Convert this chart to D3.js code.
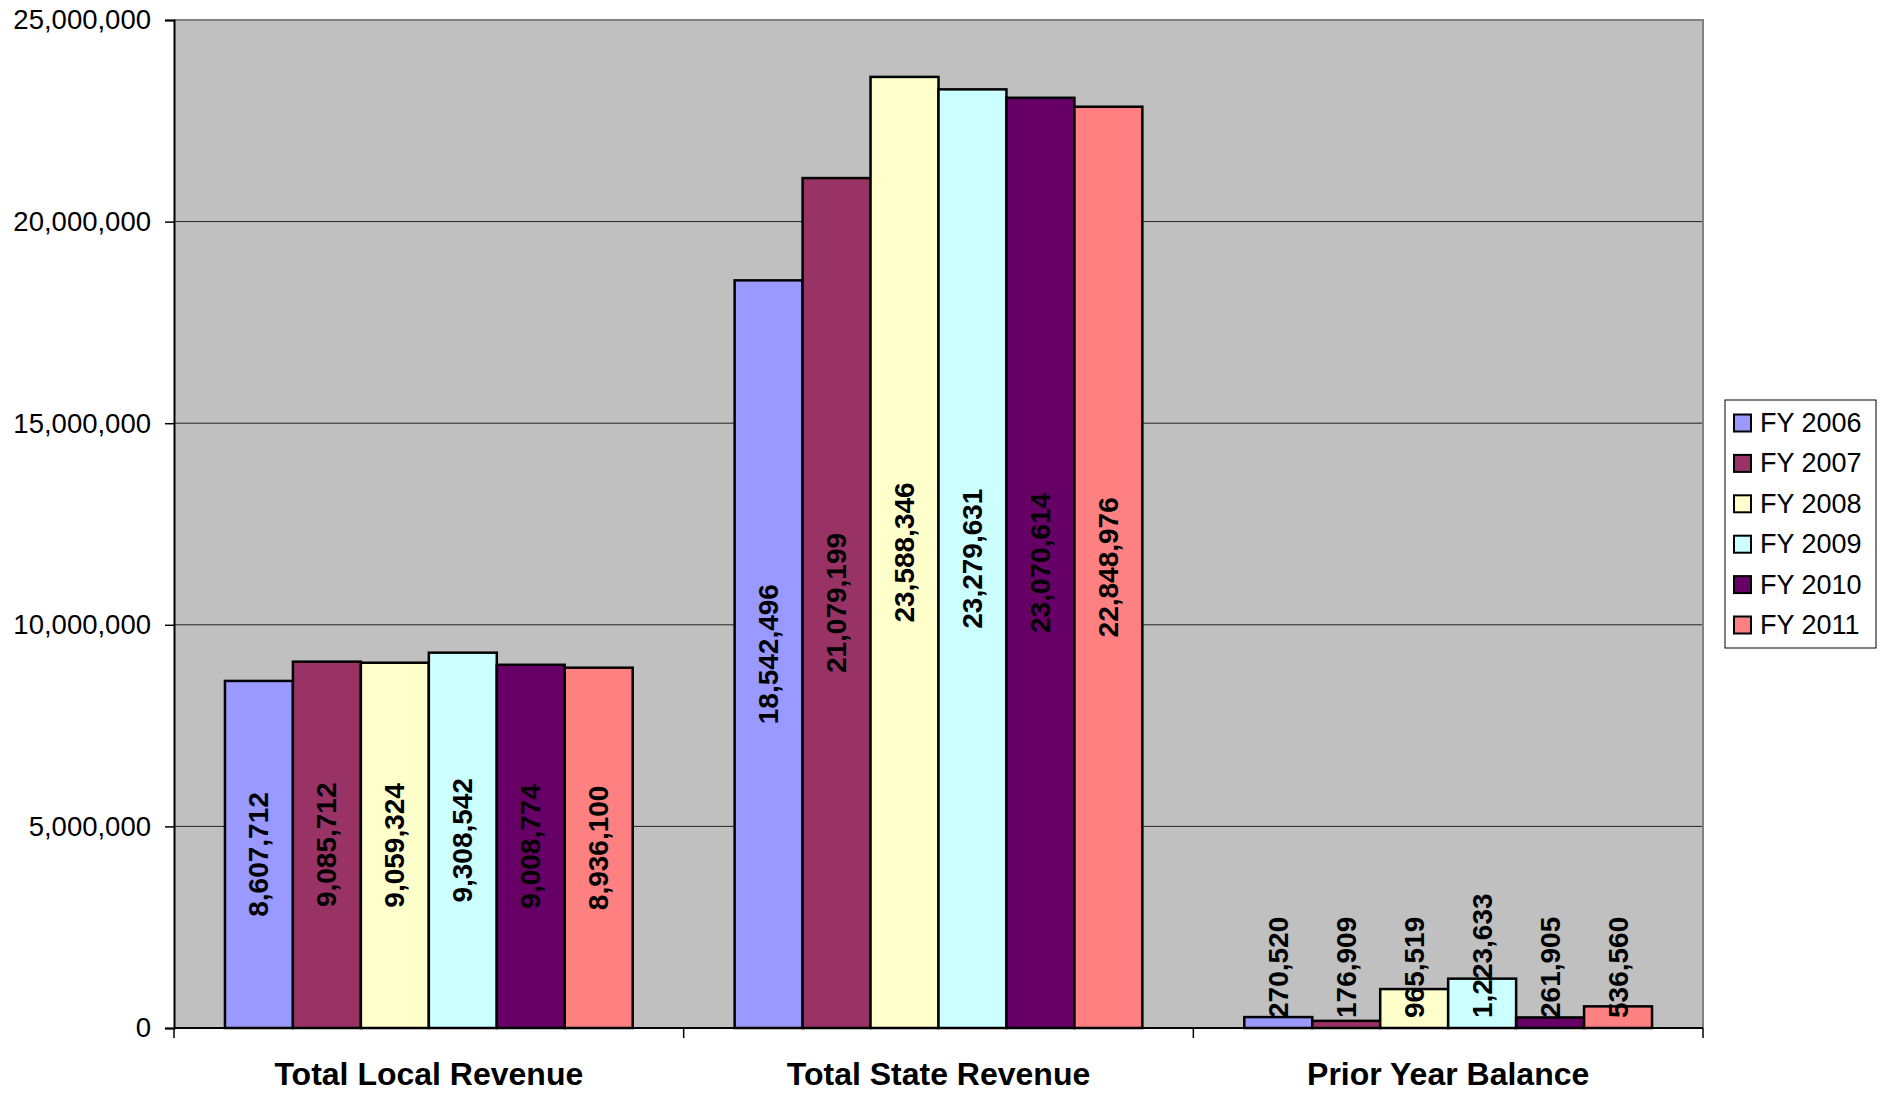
<!DOCTYPE html>
<html>
<head>
<meta charset="utf-8">
<script src="https://cdn.jsdelivr.net/npm/d3@7"></script>
<style>
  html, body { margin: 0; padding: 0; background: #fff; }
  svg { display: block; font-family: "Liberation Sans", Arial, sans-serif; }
</style>
</head>
<body>
<svg id="chart" width="1881" height="1094"></svg>
<script>
const categories = ["Total Local Revenue", "Total State Revenue", "Prior Year Balance"];
const seriesNames = ["FY 2006", "FY 2007", "FY 2008", "FY 2009", "FY 2010", "FY 2011"];
const seriesColors = ["#9999FF", "#993366", "#FFFFCC", "#CCFFFF", "#660066", "#FF8080"];
const fy2006 = [8607712, 18542496, 270520];
const fy2007 = [9085712, 21079199, 176909];
const fy2008 = [9059324, 23588346, 965519];
const fy2009 = [9308542, 23279631, 1223633];
const fy2010 = [9008774, 23070614, 261905];
const fy2011 = [8936100, 22848976, 536560];
const yTicks = [0, 5000000, 10000000, 15000000, 20000000, 25000000];

const seriesValues = [fy2006, fy2007, fy2008, fy2009, fy2010, fy2011];

const svg = d3.select("#chart");
const L = 174, R = 1703, T = 20, B = 1028;

const x0 = d3.scaleBand().domain(categories).range([L, R]).padding(0);
const bw = x0.bandwidth();
const x1 = d3.scaleBand().domain(seriesNames).range([bw * 0.1, bw * 0.9]).padding(0);
const y = d3.scaleLinear().domain([0, 25000000]).range([B, T]);
const fmt = d3.format(",");

// plot background
svg.append("rect").attr("x", L).attr("y", T).attr("width", R - L).attr("height", B - T).attr("fill", "#C0C0C0");

// gridlines
svg.append("g").selectAll("line").data(yTicks.filter(d => d > 0 && d < 25000000)).join("line")
  .attr("x1", L).attr("x2", R).attr("y1", d => y(d)).attr("y2", d => y(d))
  .attr("stroke", "#222").attr("stroke-width", 1);

// plot border top/right
svg.append("path").attr("d", `M${L},${T}H${R}V${B}`).attr("fill", "none").attr("stroke", "#808080").attr("stroke-width", 2);

// y axis
const yAxis = d3.axisLeft(y).tickValues(yTicks).tickFormat(fmt).tickSize(9).tickPadding(14);
const gy = svg.append("g").attr("transform", `translate(${L},0)`).call(yAxis);
gy.select(".domain").attr("stroke", "#000").attr("stroke-width", 2);
gy.selectAll(".tick line").attr("stroke", "#000").attr("stroke-width", 1.5);
gy.selectAll(".tick text").attr("font-size", 27.5).attr("fill", "#000").attr("font-family", "Liberation Sans, Arial, sans-serif");

// bars
const groups = svg.append("g").selectAll("g").data(categories).join("g")
  .attr("transform", c => `translate(${x0(c)},0)`);

groups.each(function(c, ci) {
  const g = d3.select(this);
  const data = seriesNames.map((s, si) => ({ s, si, v: seriesValues[si][ci] }));
  g.selectAll("rect").data(data).join("rect")
    .attr("x", d => x1(d.s)).attr("width", x1.bandwidth())
    .attr("y", d => y(d.v)).attr("height", d => B - y(d.v))
    .attr("fill", d => seriesColors[d.si]).attr("stroke", "#000").attr("stroke-width", 2.5);
});

// x axis line
svg.append("line").attr("x1", L).attr("x2", R).attr("y1", B).attr("y2", B).attr("stroke", "#000").attr("stroke-width", 2);

// x axis with category labels
const xAxis = d3.axisBottom(x0).tickSize(0).tickPadding(0);
const gx = svg.append("g").attr("transform", `translate(0,${B})`).call(xAxis);
gx.select(".domain").remove();
gx.selectAll(".tick text").attr("font-size", 32).attr("font-weight", "bold").attr("fill", "#000")
  .attr("font-family", "Liberation Sans, Arial, sans-serif").attr("dy", null).attr("y", 57);

// boundary ticks
const bounds = categories.map(c => x0(c)).concat([R]);
svg.append("g").selectAll("line").data(bounds).join("line")
  .attr("x1", d => d).attr("x2", d => d).attr("y1", B).attr("y2", B + 10)
  .attr("stroke", "#000").attr("stroke-width", 1.5);

// data labels
groups.each(function(c, ci) {
  const g = d3.select(this);
  seriesNames.forEach((s, si) => {
    const v = seriesValues[si][ci];
    const cx = x1(s) + x1.bandwidth() / 2;
    const t = g.append("text")
      .attr("font-size", 28).attr("font-weight", "bold").attr("fill", "#000")
      .attr("text-anchor", "middle").attr("dominant-baseline", "central")
      .text(fmt(v));
    const len = t.node().getComputedTextLength();
    const cy = Math.min((y(v) + B) / 2, B - 10 - len / 2);
    t.attr("transform", `translate(${cx},${cy}) rotate(-90)`);
  });
});

// legend
const lg = svg.append("g");
lg.append("rect").attr("x", 1725).attr("y", 400).attr("width", 151).attr("height", 248)
  .attr("fill", "#fff").attr("stroke", "#000").attr("stroke-width", 1);
const items = lg.selectAll("g").data(seriesNames).join("g")
  .attr("transform", (d, i) => `translate(1734,${423 + i * 40.4})`);
items.append("rect").attr("x", 0).attr("y", -8.5).attr("width", 17).attr("height", 17)
  .attr("fill", (d, i) => seriesColors[i]).attr("stroke", "#000").attr("stroke-width", 2);
items.append("text").attr("x", 26).attr("y", 0).attr("dominant-baseline", "central")
  .attr("font-size", 27).attr("fill", "#000").text(d => d);
</script>
</body>
</html>
